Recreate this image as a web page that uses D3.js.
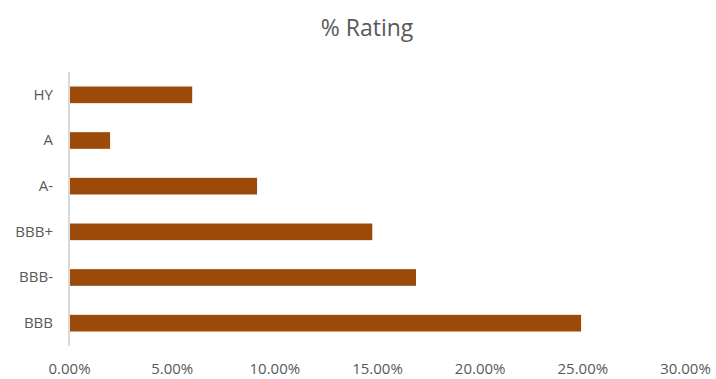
<!DOCTYPE html>
<html><head><meta charset="utf-8">
<script src="https://cdn.jsdelivr.net/npm/d3@7"></script>
<style>body{margin:0;background:#fff}svg{display:block}</style>
</head><body>
<script>
const categories = ["HY","A","A-","BBB+","BBB-","BBB"];
const values = [0.060, 0.020, 0.0916, 0.1477, 0.1690, 0.2494];
const xTicks = [0,0.05,0.10,0.15,0.20,0.25,0.30];
const title = "% Rating";

const W=716,H=379;
const svg=d3.select("body").append("svg").attr("width",W).attr("height",H);
const font="'Open Sans', 'Liberation Sans', sans-serif";
const x=d3.scaleLinear().domain([0,0.30]).range([69,685]);
const y=d3.scaleBand().domain(categories).range([72,346]).paddingInner(0.635).paddingOuter(0.3175);

svg.append("text").attr("x",367).attr("y",28).attr("dy","0.35em").attr("text-anchor","middle")
  .attr("font-family",font).attr("font-size",23).attr("fill","#595959").text(title);

svg.selectAll("rect.bar").data(categories).join("rect").attr("class","bar")
  .attr("x",x(0)+1).attr("y",d=>y(d)).attr("height",y.bandwidth())
  .attr("width",(d,i)=>x(values[i])-x(0)-1).attr("fill","#9C4A0A");

const yAxis=svg.append("g").attr("transform",`translate(${x(0)},0)`)
  .call(d3.axisLeft(y).tickSize(0).tickPadding(16));
yAxis.select(".domain").attr("stroke","#d9d9d9").attr("stroke-width",2).attr("d","M0,72V346");
yAxis.selectAll("text").attr("font-family",font).attr("font-size",15).attr("fill","#595959");

const xAxis=svg.append("g").attr("transform","translate(0,369)")
  .call(d3.axisBottom(x).tickValues(xTicks).tickFormat(d3.format(".2%")).tickSize(0).tickPadding(0));
xAxis.select(".domain").remove();
xAxis.selectAll("text").attr("dy","0.35em").attr("font-family",font).attr("font-size",15).attr("fill","#595959");
</script>
</body></html>
